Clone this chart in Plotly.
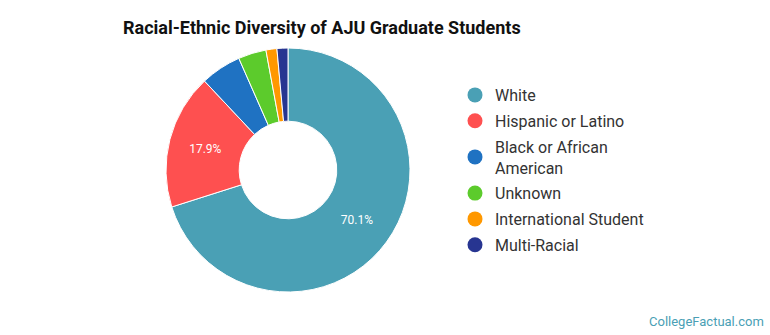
import plotly.graph_objects as go

categories = ["White", "Hispanic or Latino", "Black or African<br>American", "Unknown",
              "International Student", "Multi-Racial"]
values = [70.1, 17.9, 5.4, 3.7, 1.45, 1.45]
colors = ["#4aa0b5", "#fe5050", "#1f72c2", "#5ccb2c", "#ff9800", "#273591"]
slice_labels = ["70.1%", "17.9%", "", "", "", ""]

fig = go.Figure()
fig.add_trace(go.Pie(
    labels=categories, values=values, sort=False, direction="clockwise", rotation=0,
    hole=0.4, marker=dict(colors=colors, line=dict(color="white", width=1)),
    text=slice_labels, textinfo="text", textposition="inside",
    insidetextfont=dict(color="white", size=12, family="Roboto"),
    insidetextorientation="horizontal",
    showlegend=False, hoverinfo="label+percent",
    domain=dict(x=[(288 - 122) / 770, (288 + 122) / 770],
                y=[(335 - 293) / 335, (335 - 47) / 335]),
))
for i, (name, c) in enumerate(zip(categories, colors)):
    fig.add_trace(go.Scatter(x=[None], y=[None], mode="markers", name=name,
                             legendgroup=f"g{i}",
                             marker=dict(symbol="circle", size=15, color=c)))

fig.update_layout(
    width=770, height=335, margin=dict(l=0, r=0, t=0, b=0),
    paper_bgcolor="white", plot_bgcolor="white",
    xaxis=dict(visible=False), yaxis=dict(visible=False),
    title=dict(text="<b>Racial-Ethnic Diversity of AJU Graduate Students</b>",
               x=123 / 770, xanchor="left", y=1 - 28 / 335, yanchor="middle",
               font=dict(family="Roboto", size=18, color="#111")),
    legend=dict(x=455 / 770, y=1 - 78 / 335, xanchor="left", yanchor="top",
                font=dict(family="Roboto", size=16, color="#333"),
                itemsizing="trace", tracegroupgap=2, bgcolor="rgba(0,0,0,0)"),
    font=dict(family="Roboto"),
    annotations=[dict(text="CollegeFactual.com", x=1 - 4 / 770, y=1 - 321 / 335,
                      xref="paper", yref="paper", xanchor="right", yanchor="middle",
                      showarrow=False, font=dict(family="Roboto", size=13, color="#4a9fb5"))],
)
fig.write_html("out.html")
